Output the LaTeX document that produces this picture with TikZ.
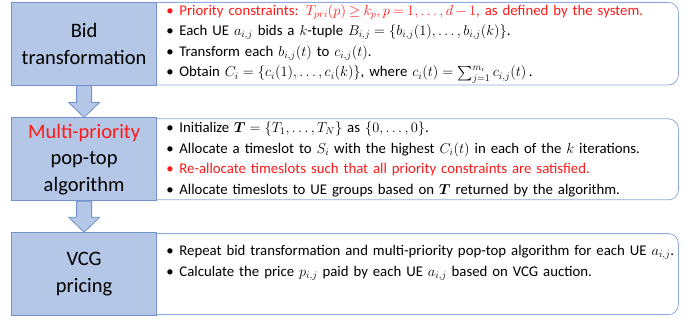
\documentclass[tikz,border=0pt]{standalone}
\usepackage{amsmath}
\usepackage{fontspec}
\setmainfont{Carlito}
\usetikzlibrary{positioning,calc}

\definecolor{stepfill}{HTML}{B4C7E7}
\definecolor{stepline}{HTML}{7393C8}
\definecolor{infoline}{HTML}{8EAADB}
\definecolor{hired}{HTML}{FF1A1A}

\newcommand{\bul}{\makebox[13pt][l]{\textbullet}}

\begin{document}
\begin{tikzpicture}[x=1pt, y=1pt,
      node distance=33pt,                                % gap between the steps
      stepbox/.style={draw=stepline, fill=stepfill, line width=0.8pt, align=center,
                      minimum width=145pt, minimum height=83pt, inner sep=2pt,
                      font=\fontsize{20.5}{26.5}\selectfont},   % step name on the left
      infobox/.style={draw=infoline, fill=white, line width=0.8pt, rounded corners=10pt,
                      minimum width=531pt, minimum height=81pt, inner xsep=19pt, inner ysep=2pt,
                      text width=493pt, align=left,
                      font=\fontsize{14.8}{20.6}\selectfont},   % details on the right
      blockarr/.style={draw=stepline, fill=stepfill, line width=0.8pt}]
    \useasboundingbox (0,0) rectangle (699,-320);
    \node[infobox, anchor=north west] (bidtxt) at (147,-2) {%
      \textcolor{hired}{\bul Priority constraints: $\thickmuskip=4mu\medmuskip=3mu
        T_{pri}(p)\geq k_p, p=1,\ldots,d-1$, as defined by the system.}\\
      \bul Each UE $a_{i,j}$ bids a $k$-tuple $B_{i,j}=\{b_{i,j}(1),\ldots,b_{i,j}(k)\}$.\\
      \bul Transform each $b_{i,j}(t)$ to $c_{i,j}(t)$.\\
      \bul Obtain $C_i=\{c_i(1),\ldots,c_i(k)\}$, where $c_i(t)=\sum_{j=1}^{m_i}c_{i,j}(t)$\,.};
    \node[infobox, below=of bidtxt] (poptxt) {%
      \bul Initialize $\boldsymbol{T}=\{T_1,\ldots,T_N\}$ as $\{0,\ldots,0\}$.\\
      \bul Allocate a timeslot to $S_i$ with the highest $C_i(t)$ in each of the $k$ iterations.\\
      \textcolor{hired}{\bul Re-allocate timeslots such that all priority constraints are satisfied.}\\
      \bul Allocate timeslots to UE groups based on $\boldsymbol{T}$ returned by the algorithm.};
    \node[infobox, below=of poptxt] (vcgtxt) {%
      \mbox{\bul Repeat bid transformation and multi-priority pop-top algorithm for each UE $a_{i,j}$.}\\
      \bul Calculate the price $p_{i,j}$ paid by each UE $a_{i,j}$ based on VCG auction.\\
      \strut};                                           % empty last line lifts the text
    % step boxes overlap the left end of the detail boxes
    \node[stepbox, left=-10pt of bidtxt] (bid) {Bid\\transformation};
    \node[stepbox, left=-10pt of poptxt] (pop) {\textcolor{hired}{Multi-priority}\\pop-top\\algorithm};
    \node[stepbox, left=-10pt of vcgtxt] (vcg) {VCG\\pricing};
    \foreach \a/\b in {bid/pop, pop/vcg}
      \draw[blockarr] ($(\a.south)+(-7.5,0)$) -- ($(\b.north)+(-7.5,15)$) -- ($(\b.north)+(-15.5,15)$)
        -- (\b.north) -- ($(\b.north)+(15.5,15)$) -- ($(\b.north)+(7.5,15)$)
        -- ($(\a.south)+(7.5,0)$) -- cycle;              % block arrow to the next step
  \end{tikzpicture}
\end{document}
